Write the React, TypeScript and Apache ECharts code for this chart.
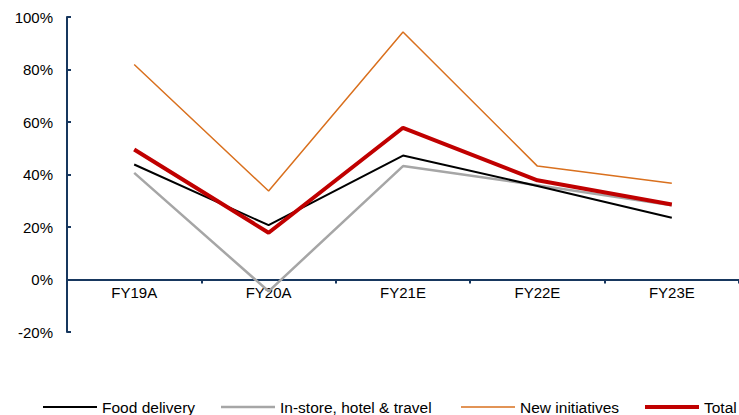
import React, { useEffect, useRef } from "react";
import * as echarts from "echarts";

const categories = ["FY19A", "FY20A", "FY21E", "FY22E", "FY23E"];
const foodDelivery = [43.8, 20.7, 47.2, 35.6, 23.5];
const inStore = [40.6, -4.5, 43.2, 35.9, 28.3];
const newInitiatives = [81.9, 33.7, 94.3, 43.2, 36.7];
const total = [49.5, 17.8, 57.8, 37.8, 28.6];
const seriesNames = ["Food delivery", "In-store, hotel & travel", "New initiatives", "Total"];

export default function App() {
  const ref = useRef<HTMLDivElement>(null);
  useEffect(() => {
    if (!ref.current) return;
    const chart = echarts.init(ref.current, undefined, { renderer: "svg" });
    const font = "'Liberation Sans', Arial, sans-serif";
    const axisColor = "#17375E";
    const colors = ["#000000", "#A6A6A6", "#D9701E", "#C00000"];
    const widths = [2, 2.5, 1.5, 4];
    const legendLefts = [43, 221, 461, 645];
    const mk = (i: number, data: number[], z: number) => ({
      name: seriesNames[i],
      type: "line",
      data,
      symbol: "none",
      z,
      lineStyle: { color: colors[i], width: widths[i] },
      itemStyle: { color: colors[i] },
    });
    chart.setOption({
      animation: false,
      textStyle: { fontFamily: font },
      grid: { left: 67, top: 17, width: 682, height: 315, containLabel: false },
      xAxis: {
        type: "category",
        data: categories,
        boundaryGap: true,
        axisLine: { onZero: true, lineStyle: { color: axisColor, width: 2 } },
        axisTick: { show: true, length: 4, lineStyle: { color: axisColor, width: 2 } },
        axisLabel: { color: "#000", fontSize: 15, fontFamily: font, margin: -47 },
        splitLine: { show: false },
      },
      yAxis: {
        type: "value",
        min: -20,
        max: 100,
        interval: 20,
        axisLine: { show: true, lineStyle: { color: axisColor, width: 2 } },
        axisTick: { show: true, inside: true, length: 4, lineStyle: { color: axisColor, width: 2 } },
        axisLabel: { color: "#000", fontSize: 15, fontFamily: font, margin: 14, formatter: "{value}%" },
        splitLine: { show: false },
      },
      legend: seriesNames.map((n, i) => ({
        data: [
          {
            name: n,
            icon: "path://M0 0H54V" + widths[i] + "H0Z",
            itemStyle: { color: colors[i], borderWidth: 0 },
          },
        ],
        left: legendLefts[i],
        top: 399,
        padding: 0,
        itemWidth: 54,
        itemHeight: 14,
        textStyle: { color: "#000", fontSize: 15.5, fontFamily: font },
      })),
      series: [
        mk(0, foodDelivery, 3),
        mk(1, inStore, 2),
        mk(2, newInitiatives, 1),
        mk(3, total, 4),
      ],
    });
    return () => chart.dispose();
  }, []);
  return <div ref={ref} style={{ position: "absolute", left: 0, top: 0, width: 739, height: 415 }} />;
}
